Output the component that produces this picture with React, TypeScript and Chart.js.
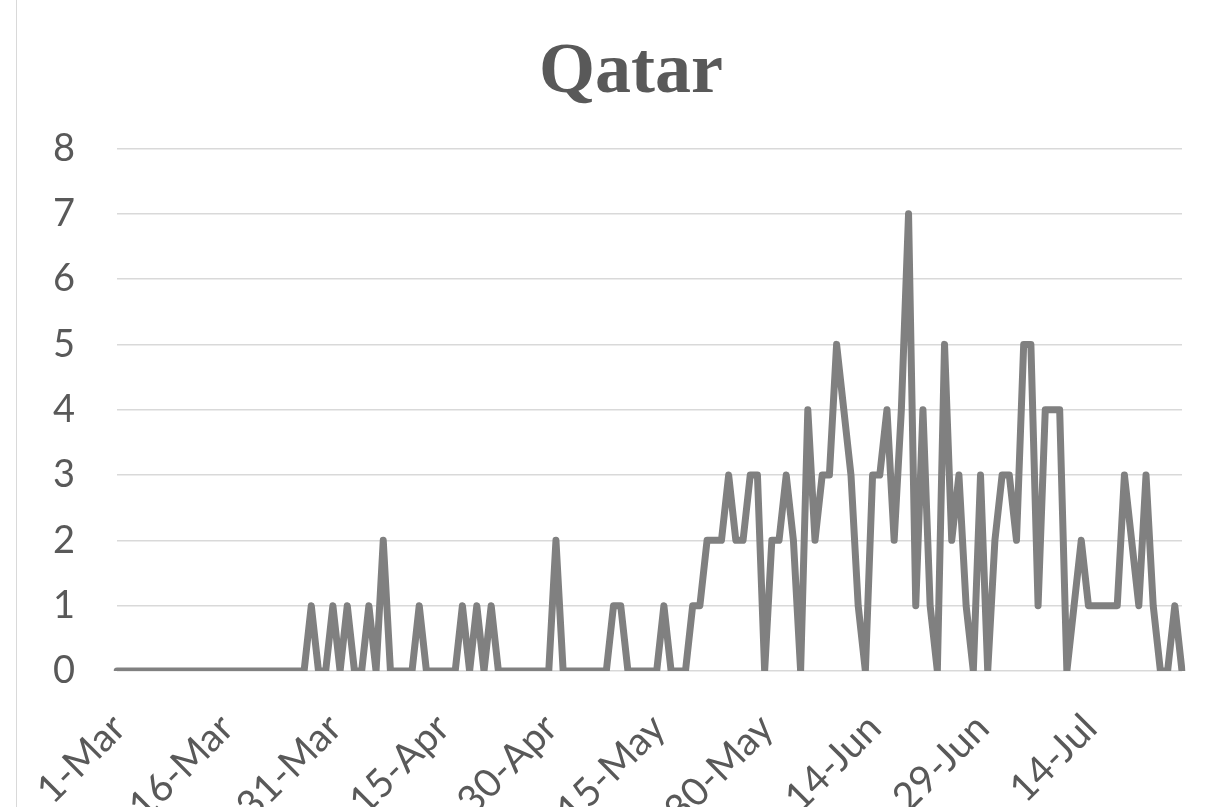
import React, { useEffect, useRef } from 'react';
import { Chart, registerables } from 'chart.js';

Chart.register(...registerables);

const categories: string[] = [
  '1-Mar','2-Mar','3-Mar','4-Mar','5-Mar','6-Mar','7-Mar','8-Mar','9-Mar','10-Mar',
  '11-Mar','12-Mar','13-Mar','14-Mar','15-Mar','16-Mar','17-Mar','18-Mar','19-Mar','20-Mar',
  '21-Mar','22-Mar','23-Mar','24-Mar','25-Mar','26-Mar','27-Mar','28-Mar','29-Mar','30-Mar','31-Mar',
  '1-Apr','2-Apr','3-Apr','4-Apr','5-Apr','6-Apr','7-Apr','8-Apr','9-Apr','10-Apr',
  '11-Apr','12-Apr','13-Apr','14-Apr','15-Apr','16-Apr','17-Apr','18-Apr','19-Apr','20-Apr',
  '21-Apr','22-Apr','23-Apr','24-Apr','25-Apr','26-Apr','27-Apr','28-Apr','29-Apr','30-Apr',
  '1-May','2-May','3-May','4-May','5-May','6-May','7-May','8-May','9-May','10-May',
  '11-May','12-May','13-May','14-May','15-May','16-May','17-May','18-May','19-May','20-May',
  '21-May','22-May','23-May','24-May','25-May','26-May','27-May','28-May','29-May','30-May','31-May',
  '1-Jun','2-Jun','3-Jun','4-Jun','5-Jun','6-Jun','7-Jun','8-Jun','9-Jun','10-Jun',
  '11-Jun','12-Jun','13-Jun','14-Jun','15-Jun','16-Jun','17-Jun','18-Jun','19-Jun','20-Jun',
  '21-Jun','22-Jun','23-Jun','24-Jun','25-Jun','26-Jun','27-Jun','28-Jun','29-Jun','30-Jun',
  '1-Jul','2-Jul','3-Jul','4-Jul','5-Jul','6-Jul','7-Jul','8-Jul','9-Jul','10-Jul',
  '11-Jul','12-Jul','13-Jul','14-Jul','15-Jul','16-Jul','17-Jul','18-Jul','19-Jul','20-Jul',
  '21-Jul','22-Jul','23-Jul','24-Jul','25-Jul','26-Jul','27-Jul'
];

const deaths: number[] = [
  0,0,0,0,0,0,0,0,0,0,
  0,0,0,0,0,0,0,0,0,0,
  0,0,0,0,0,0,0,1,0,0,1,
  0,1,0,0,1,0,2,0,0,0,
  0,1,0,0,0,0,0,1,0,1,
  0,1,0,0,0,0,0,0,0,0,
  2,0,0,0,0,0,0,0,1,1,
  0,0,0,0,0,1,0,0,0,1,
  1,2,2,2,3,2,2,3,3,0,2,
  2,3,2,0,4,2,3,3,5,4,
  3,1,0,3,3,4,2,4,7,1,
  4,1,0,5,2,3,1,0,3,0,
  2,3,3,2,5,5,1,4,4,4,
  0,1,2,1,1,1,1,1,3,2,
  1,3,1,0,0,1,0
];

const shownTickLabels: string[] = [
  '1-Mar','16-Mar','31-Mar','15-Apr','30-Apr','15-May','30-May','14-Jun','29-Jun','14-Jul'
];

const chartTitle = 'Qatar';

export default function App() {
  const ref = useRef<HTMLCanvasElement>(null);

  useEffect(() => {
    if (!ref.current) return;
    const chart = new Chart(ref.current, {
      type: 'line',
      data: {
        labels: categories,
        datasets: [
          {
            data: deaths,
            borderColor: '#808080',
            backgroundColor: '#808080',
            borderWidth: 7,
            pointRadius: 0,
            tension: 0,
            fill: false,
            borderJoinStyle: 'round',
            borderCapStyle: 'round',
          },
        ],
      },
      options: {
        animation: false,
        responsive: false,
        maintainAspectRatio: false,
        layout: { padding: { left: 80, right: 28, top: 0, bottom: 0 } },
        plugins: {
          legend: { display: false },
          tooltip: { enabled: false },
          title: {
            display: true,
            text: chartTitle,
            color: '#595959',
            font: { family: 'Liberation Serif', size: 72, weight: 'bold' },
            padding: { top: 30, bottom: 32 },
          },
        },
        scales: {
          x: {
            grid: { display: false, drawTicks: false },
            border: { display: false },
            ticks: {
              autoSkip: false,
              minRotation: 45,
              maxRotation: 45,
              padding: 34,
              labelOffset: 2,
              color: '#595959',
              font: { family: 'Lato', size: 39 },
              callback: (_v: any, i: number) =>
                shownTickLabels.includes(categories[i]) ? categories[i] : '',
            },
            afterFit: (s: any) => {
              s.height = 136;
              s.paddingLeft = 0;
              s.paddingRight = 0;
            },
          },
          y: {
            min: 0,
            max: 8,
            ticks: {
              stepSize: 1,
              mirror: true,
              crossAlign: 'far',
              padding: -64,
              color: '#595959',
              font: { family: 'Lato', size: 38 },
            },
            grid: { color: '#d9d9d9', lineWidth: 1.5, drawTicks: false },
            border: { display: false },
            afterFit: (s: any) => {
              s.width = 37;
              s.paddingTop = 0;
              s.paddingBottom = 0;
            },
          },
        },
      },
    });
    return () => chart.destroy();
  }, []);

  return (
    <div style={{ position: 'absolute', left: 0, top: 0, width: 1210, height: 807, background: '#fff', overflow: 'hidden' }}>
      <div style={{ position: 'absolute', left: 16, top: 0, height: 807, borderLeft: '1px solid #d9d9d9' }} />
      <canvas ref={ref} width={1210} height={807} style={{ display: 'block' }} />
    </div>
  );
}
